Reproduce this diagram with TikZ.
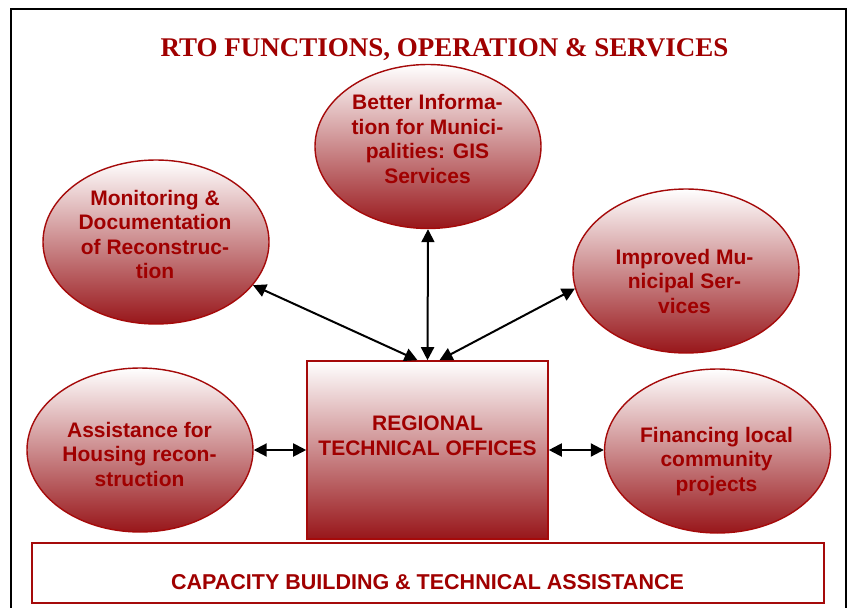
\documentclass[tikz,border=0pt]{standalone}
\usepackage{fontspec}
\setmainfont{Liberation Sans}
\newfontfamily\titlefont{Liberation Serif}
\usetikzlibrary{shapes.geometric,arrows.meta}
\definecolor{rtored}{RGB}{160,0,0}
\definecolor{rtoedge}{RGB}{165,10,10}
\definecolor{rtoshade}{RGB}{152,22,26}
\tikzset{
  bubble/.style={ellipse, draw=rtoedge, line width=1.4pt, top color=white, bottom color=rtoshade,
    minimum width=226pt, minimum height=164pt, inner sep=0pt},
  bubtext/.style={anchor=north, align=center, text=rtored, inner sep=0pt,
    font=\bfseries\fontsize{21}{24.5}\selectfont},
  link/.style={{Triangle[length=13pt,width=13pt]}-{Triangle[length=13pt,width=13pt]}, line width=2pt, black}
}
\begin{document}
\begin{tikzpicture}[x=1pt,y=-1pt]
\useasboundingbox (0,0) rectangle (850,607);
\fill[white] (0,0) rectangle (850,607);
% outer frame
\draw[line width=1.8pt] (11,615) -- (11,9) -- (846,9) -- (846,615);
% title
\node[anchor=base, text=rtored, inner sep=0pt, font=\titlefont\bfseries\fontsize{27}{30}\selectfont]
  (title) at (444.5,56.5) {RTO FUNCTIONS, OPERATION \& SERVICES};
% ellipses
\node[bubble] (top) at (428,146.5) {};
\node[bubble] (tl) at (156,242) {};
\node[bubble] (rt) at (686,271) {};
\node[bubble] (bl) at (140,450) {};
\node[bubble] (br) at (717.5,451) {};
% central box
\node[draw=rtoedge, line width=1.6pt, top color=white, bottom color=rtoshade,
  minimum width=241pt, minimum height=178pt, inner sep=0pt] (rto) at (427.5,450) {};
% banner
\node[draw=rtoedge, line width=1.8pt, minimum width=792pt, minimum height=60pt, inner sep=0pt]
  (cb) at (428,573) {};
% texts
\node[bubtext] (toptxt) at (427.5,94.5) {Better Informa-\\tion for Munici-\\palities: GIS\\Services};
\node[bubtext] (tltxt) at (155,190) {Monitoring \&\\Documentation\\of Reconstruc-\\tion};
\node[bubtext] (rttxt) at (684.5,249) {Improved Mu-\\nicipal Ser-\\vices};
\node[bubtext] (bltxt) at (139.5,422) {Assistance for\\Housing recon-\\struction};
\node[bubtext] (brtxt) at (716.5,427) {Financing local\\community\\projects};
\node[bubtext] (rtotxt) at (427.5,416) {REGIONAL\\TECHNICAL OFFICES};
\node[anchor=base, text=rtored, inner sep=0pt, font=\bfseries\fontsize{21.5}{24}\selectfont]
  (cbtxt) at (427.5,589) {CAPACITY BUILDING \& TECHNICAL ASSISTANCE};
% connectors
\draw[link] (rto.north) -- (top.south);
\draw[link] ([xshift=-10pt]rto.north) -- (tl.336);
\draw[link] ([xshift=12pt]rto.north) -- (rt.189);
\draw[link] (rto.west) -- (rto.west -| bl.east);
\draw[link] (rto.east) -- (rto.east -| br.west);
\end{tikzpicture}
\end{document}
